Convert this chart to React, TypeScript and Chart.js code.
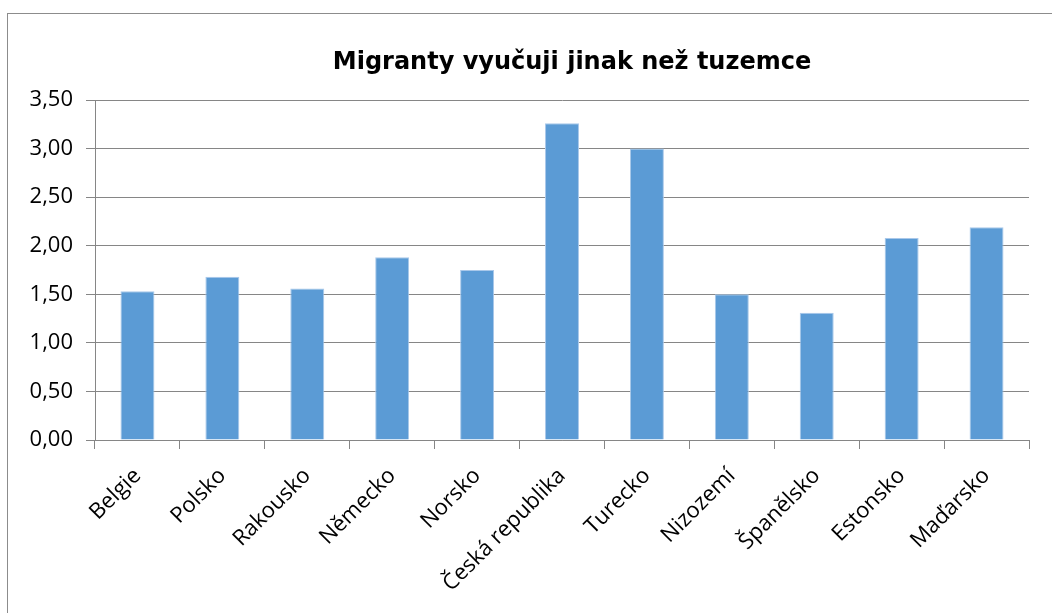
import React, { useEffect, useRef } from "react";
import { Chart, registerables } from "chart.js";

Chart.register(...registerables);

const categories = [
  "Belgie",
  "Polsko",
  "Rakousko",
  "Německo",
  "Norsko",
  "Česká republika",
  "Turecko",
  "Nizozemí",
  "Španělsko",
  "Estonsko",
  "Maďarsko",
];
const values = [1.53, 1.68, 1.56, 1.88, 1.75, 3.26, 3.0, 1.5, 1.31, 2.08, 2.19];
const yTickValues = [0, 0.5, 1, 1.5, 2, 2.5, 3, 3.5];
const titleText = "Migranty vyučuji jinak než tuzemce";

const FONT = "'Open Sans', sans-serif";
const TITLE_FONT = "'DejaVu Sans', sans-serif";
const GRID = "#868686";

export default function App() {
  const ref = useRef<HTMLCanvasElement | null>(null);

  useEffect(() => {
    if (!ref.current) return;
    const titlePlugin = {
      id: "customTitle",
      afterDraw(chart: any) {
        const ctx = chart.ctx;
        ctx.save();
        ctx.font = `bold 24px ${TITLE_FONT}`;
        ctx.fillStyle = "#000";
        ctx.textAlign = "center";
        ctx.textBaseline = "middle";
        ctx.fillText(titleText, 572, 63);
        ctx.restore();
      },
    };
    const chart = new Chart(ref.current, {
      type: "bar",
      data: {
        labels: categories,
        datasets: [
          {
            data: values,
            backgroundColor: "#5B9BD5",
            borderColor: "#A9C8EA",
            borderWidth: 1,
            barPercentage: 0.4,
            categoryPercentage: 1.0,
          },
        ],
      },
      options: {
        responsive: false,
        animation: false,
        devicePixelRatio: 1,
        layout: { padding: { top: 100, right: 23, left: 0, bottom: 0 } },
        plugins: {
          legend: { display: false },
          tooltip: { enabled: false },
          title: { display: false },
        },
        scales: {
          x: {
            grid: {
              display: true,
              drawOnChartArea: false,
              drawTicks: true,
              tickLength: 9,
              color: GRID,
              offset: true,
            },
            border: { display: true, color: GRID },
            ticks: {
              maxRotation: 45,
              minRotation: 45,
              autoSkip: false,
              font: { family: FONT, size: 22 },
              color: "#000",
              padding: 14,
            },
            afterFit: (s: any) => {
              s.height = 173;
            },
          },
          y: {
            min: 0,
            max: 3.5,
            afterBuildTicks: (s: any) => {
              s.ticks = yTickValues.map((v) => ({ value: v }));
            },
            ticks: {
              callback: (v: any) => Number(v).toFixed(2).replace(".", ","),
              font: { family: FONT, size: 22 },
              color: "#000",
              padding: 13,
            },
            grid: { color: GRID, tickLength: 9, drawTicks: true },
            border: { display: true, color: GRID },
            afterFit: (s: any) => {
              s.width = 95;
            },
          },
        },
      },
      plugins: [titlePlugin],
    });
    return () => chart.destroy();
  }, []);

  return (
    <div
      style={{
        position: "fixed",
        left: 0,
        top: 0,
        width: 1052,
        height: 613,
        overflow: "hidden",
        background: "#fff",
      }}
    >
      <div
        style={{
          position: "absolute",
          left: 7,
          top: 13,
          width: 1100,
          height: 700,
          border: "1px solid #8c8c8c",
        }}
      />
      <canvas
        ref={ref}
        width={1052}
        height={613}
        style={{ position: "absolute", left: 0, top: 0 }}
      />
    </div>
  );
}
